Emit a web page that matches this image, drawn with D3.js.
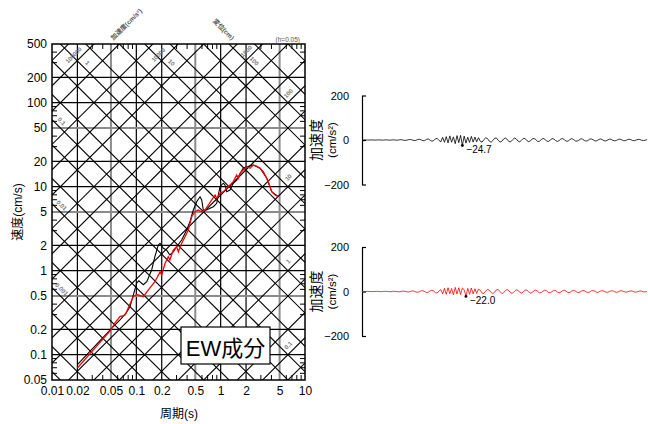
<!DOCTYPE html>
<html>
<head>
<meta charset="utf-8">
<script src="https://d3js.org/d3.v7.min.js"></script>
<style>
  body { margin: 0; background: #fff; }
  text { font-family: "Liberation Sans", Arial, "Noto Sans CJK JP", sans-serif; }
</style>
</head>
<body>
<script>
'use strict';
// ---- chart values ----
const periodTicks = [0.01, 0.02, 0.05, 0.1, 0.2, 0.5, 1, 2, 5, 10];
const velocityTicks = [0.05, 0.1, 0.2, 0.5, 1, 2, 5, 10, 20, 50, 100, 200, 500];
const gridPeriods = [0.02, 0.05, 0.1, 0.2, 0.5, 1, 2, 5];
const gridVelocities = [0.1, 0.2, 0.5, 1, 2, 5, 10, 20, 50, 100, 200];

// tripartite diagonals: acceleration (cm/s2) and displacement (cm)
const accelLines = [0.01, 0.02, 0.05, 0.1, 0.2, 0.5, 1, 2, 5, 10, 20, 50, 100, 200, 500,
  1000, 2000, 5000, 10000, 20000, 50000, 100000, 200000, 500000, 1000000];
const dispLines = [0.00001, 0.00002, 0.00005, 0.0001, 0.0002, 0.0005, 0.001, 0.002, 0.005,
  0.01, 0.02, 0.05, 0.1, 0.2, 0.5, 1, 2, 5, 10, 20, 50, 100, 200, 500, 1000];
const accelLabels = ["100000", "10000", "1000", "100", "10", "1", "0.1"];
const dispLabels = ["1", "10", "100", "0.1", "0.01", "0.001"];

// velocity response spectrum, red and black
const redPeriod = [0.02, 0.05, 0.0558, 0.064, 0.0735, 0.080, 0.092, 0.101, 0.121, 0.139, 0.166,
  0.191, 0.200, 0.219, 0.239, 0.250, 0.274, 0.301, 0.315, 0.345, 0.378, 0.413, 0.454, 0.497,
  0.543, 0.596, 0.652, 0.714, 0.784, 0.858, 0.897, 0.982, 1.075, 1.18, 1.29, 1.41, 1.55, 1.62,
  1.70, 1.85, 2.04, 2.23, 2.44, 2.67, 2.93, 3.20, 3.52, 3.67, 4.03, 4.41, 4.83];
const redVelocity = [0.0695, 0.197, 0.239, 0.284, 0.297, 0.357, 0.49, 0.52, 0.49, 0.59, 0.74,
  0.97, 0.89, 1.22, 1.47, 1.34, 1.76, 1.93, 1.68, 2.12, 2.54, 3.05, 4.40, 5.04,
  5.28, 5.04, 5.28, 6.06, 6.95, 7.97, 7.28, 8.35, 8.72, 9.58, 10.5, 11.5, 13.8, 12.6,
  14.4, 15.8, 17.3, 16.6, 18.1, 17.6, 16.6, 15.1, 12.6, 11.5, 8.72, 7.97, 7.60];
const blackPeriod = [0.02, 0.0533, 0.064, 0.075, 0.084, 0.101, 0.107, 0.121, 0.133, 0.152, 0.166,
  0.182, 0.191, 0.209, 0.229, 0.25, 0.274, 0.301, 0.345, 0.395, 0.432, 0.474, 0.52, 0.569,
  0.596, 0.622, 0.682, 0.748, 0.819, 0.897, 0.982, 1.075, 1.125, 1.18, 1.29, 1.41, 1.55,
  1.70, 1.85, 2.04, 2.44, 2.93, 3.52, 4.03, 4.83];
const blackVelocity = [0.076, 0.216, 0.259, 0.31, 0.373, 0.71, 0.76, 0.68, 0.74, 1.02, 1.47,
  2.02, 2.12, 1.85, 1.76, 1.54, 1.68, 1.93, 2.32, 3.05, 3.83, 5.28, 6.63, 7.60,
  6.95, 5.28, 5.28, 5.53, 5.78, 6.35, 10.0, 11.0, 10.5, 8.72, 9.14, 11.0, 12.0,
  14.4, 16.6, 17.3, 18.1, 16.6, 12.6, 8.72, 7.60];

// acceleration time histories (cm/s2), one sample per step
const waveBlack = [
  0, 0.2, 0.1, -0.2, -0.1, 0.3, 0.2, -0.3, -0.2, 0.4,
  0.3, -0.4, -0.3, 0.5, 0.4, -0.6, -0.4, 0.7, 0.5, -0.8,
  -0.6, 1.0, 1.4, -0.6, -1.6, -0.9, 1.5, 2.2, 0.4, -2.4,
  -1.8, 2.0, 3.2, 0.8, -3.5, -2.6, 3.0, 4.8, -1.0, -5.2,
  -3.0, 5.5, 7.0, -2.5, -8.0, 12.0, -10.5, 15.2, -13.0, 18.5,
  -9.8, 14.0, -16.5, 19.8, -12.2, 21.0, -24.7, 17.5, -14.0, 12.8,
  -11.0, 16.2, -9.5, 13.0, -8.2, 10.5, -6.0, -9.5, 2.0, 9.8,
  6.5, -5.0, -10.0, -2.5, 8.2, 8.8, -1.5, -9.2, -6.0, 4.5,
  9.0, 3.0, -7.5, -8.0, 1.0, 8.5, 5.5, -4.8, -8.2, -1.2,
  7.4, 6.8, -2.6, -7.6, -4.0, 5.2, 7.0, 1.5, -6.5, -5.8,
  2.0, 7.2, 3.5, -5.0, -6.8, -0.5, 6.2, 5.0, -2.8, -6.5,
  -2.5, 4.8, 6.0, 0.5, -5.6, -4.6, 2.2, 5.8, 2.8, -4.2,
  -5.4, -0.8, 5.0, 4.2, -2.0, -5.2, -2.6, 3.6, 4.8, 0.6,
  -4.4, -3.6, 1.8, 4.6, 2.2, -3.4, -4.2, -0.4, 3.8, 3.2,
  -1.6, -4.0, -1.8, 2.8, 3.8, 0.4, -3.4, -2.8, 1.2, 3.4,
  1.6, -2.4, -3.0, -0.2, 2.8, 2.2, -1.2, -2.6, -1.0, 1.6];
const waveRed = [
  0, -0.2, -0.1, 0.3, 0.2, -0.3, -0.4, 0.2, 0.5, 0.3,
  -0.5, -0.6, 0.3, 0.7, 0.4, -0.7, -0.8, 0.5, 0.9, 0.2,
  -1.0, -1.2, 0.6, 1.8, 1.0, -1.4, -2.2, -0.3, 2.4, 2.0,
  -1.6, -3.4, -1.0, 3.2, 3.6, -0.8, -4.6, -3.2, 2.6, 5.6,
  2.0, -5.8, -6.5, 2.5, 8.5, -11.0, 14.5, -12.8, 16.8, -10.2,
  13.5, -15.0, 18.2, -11.5, 17.0, -13.8, 15.5, 8.0, -22.0, 14.2,
  -12.5, 15.8, -10.8, 12.2, -9.0, 10.8, 5.0, -7.8, -9.0, 1.5,
  9.6, 6.2, -4.5, -9.4, -3.0, 7.6, 8.6, -0.8, -8.8, -5.6,
  3.8, 8.8, 3.6, -6.2, -7.8, 0.4, 7.8, 5.2, -3.6, -7.6,
  -2.2, 6.4, 6.6, -1.4, -7.0, -4.2, 4.6, 6.6, 0.8, -5.8,
  -5.2, 1.8, 6.4, 3.2, -4.4, -6.0, -0.6, 5.6, 4.6, -2.4,
  -5.8, -2.2, 4.4, 5.4, 0.4, -4.8, -4.0, 2.0, 5.2, 2.4,
  -3.6, -4.8, -0.6, 4.4, 3.8, -1.8, -4.6, -2.0, 3.2, 4.2,
  0.6, -3.8, -3.2, 1.6, 4.0, 1.8, -2.8, -3.6, -0.2, 3.2,
  2.8, -1.4, -3.4, -1.4, 2.4, 3.0, 0.2, -2.8, -2.2, 1.0,
  2.8, 1.2, -2.0, -2.4, -0.2, 2.2, 1.6, -1.0, -1.8, -0.6];
const waveTicks = [-200, 0, 200];

(function() {
  const TWO_PI = 2 * Math.PI;
  let svg = "";

  window.onload = function() {
    svg = d3.select('body')
      .append('svg')
      .attr('width', 648)
      .attr('height', 424);

    let map = drawSpectrumFrame();
    drawDiagonals(map);
    drawSpectrum(map);
    drawWave(waveBlack, 95.5, "#000");
    drawWave(waveRed, 247, "#f00");
  };

  // log-log frame, grid, ticks and axis labels
  function drawSpectrumFrame() {
    let x = d3.scaleLog().domain([0.01, 10]).range([52, 305]);
    let y = d3.scaleLog().domain([0.05, 500]).range([380, 44]);

    svg.append('defs').append('clipPath')
      .attr('id', 'plotClip')
      .append('rect')
        .attr('x', 52).attr('y', 44)
        .attr('width', 253).attr('height', 336);

    // grid lines, the 5-lines are grey
    let isFive = d => Math.abs(d / Math.pow(10, Math.floor(Math.log10(d) + 1e-9)) - 5) < 1e-6;
    svg.append('g').selectAll('line')
      .data(gridPeriods)
      .enter().append('line')
        .attr('x1', d => x(d)).attr('x2', d => x(d))
        .attr('y1', 44).attr('y2', 380)
        .attr('stroke', d => isFive(d) ? '#8c8c8c' : '#000')
        .attr('stroke-width', d => isFive(d) ? 2 : 1.2);
    svg.append('g').selectAll('line')
      .data(gridVelocities)
      .enter().append('line')
        .attr('y1', d => y(d)).attr('y2', d => y(d))
        .attr('x1', 52).attr('x2', 305)
        .attr('stroke', d => isFive(d) ? '#8c8c8c' : '#000')
        .attr('stroke-width', d => isFive(d) ? 2 : 1.2);

    // minor ticks (3,4,6,7,8,9) on all four sides
    let lead = d => Math.round(d / Math.pow(10, Math.floor(Math.log10(d) + 1e-9)));
    let minorX = x.ticks().filter(d => [3, 4, 6, 7, 8, 9].includes(lead(d)));
    let minorY = y.ticks().filter(d => [3, 4, 6, 7, 8, 9].includes(lead(d)));
    let tk = svg.append('g').attr('stroke', '#000').attr('stroke-width', 1);
    minorX.forEach(d => {
      tk.append('line').attr('x1', x(d)).attr('x2', x(d)).attr('y1', 44).attr('y2', 49);
      tk.append('line').attr('x1', x(d)).attr('x2', x(d)).attr('y1', 380).attr('y2', 375);
    });
    minorY.forEach(d => {
      tk.append('line').attr('y1', y(d)).attr('y2', y(d)).attr('x1', 52).attr('x2', 57);
      tk.append('line').attr('y1', y(d)).attr('y2', y(d)).attr('x1', 305).attr('x2', 300);
    });

    // tick labels through d3 axes
    let xAxis = d3.axisBottom(x).tickValues(periodTicks)
      .tickFormat(d3.format('~g')).tickSize(0).tickPadding(6);
    svg.append('g')
      .attr('transform', 'translate(0, 380)')
      .call(xAxis)
      .call(g => g.select('.domain').remove())
      .selectAll('text').attr('font-size', '12px').attr('fill', '#000');

    let yAxis = d3.axisLeft(y).tickValues(velocityTicks)
      .tickFormat(d3.format('~g')).tickSize(0).tickPadding(5);
    svg.append('g')
      .attr('transform', 'translate(52, 0)')
      .call(yAxis)
      .call(g => g.select('.domain').remove())
      .selectAll('text').attr('font-size', '12px').attr('fill', '#000');

    svg.append('text')
      .attr('x', 179).attr('y', 418)
      .attr('text-anchor', 'middle')
      .style('font-size', '12px')
      .text('周期(s)');

    svg.append('text')
      .attr('transform', 'translate(22, 212)rotate(-90)')
      .attr('text-anchor', 'middle')
      .style('font-size', '12px')
      .text('速度(cm/s)');

    return { x: x, y: y };
  }

  // constant acceleration / displacement lines of the tripartite chart
  function drawDiagonals(map) {
    let x = map.x, y = map.y;
    let g = svg.append('g')
      .attr('clip-path', 'url(#plotClip)')
      .attr('stroke', '#000')
      .attr('stroke-width', 1.1);

    g.selectAll('.acc')
      .data(accelLines)
      .enter().append('line')
        .attr('x1', x(0.01)).attr('y1', a => y(a * 0.01 / TWO_PI))
        .attr('x2', x(10)).attr('y2', a => y(a * 10 / TWO_PI));

    g.selectAll('.disp')
      .data(dispLines)
      .enter().append('line')
        .attr('x1', x(0.01)).attr('y1', d => y(TWO_PI * d / 0.01))
        .attr('x2', x(10)).attr('y2', d => y(TWO_PI * d / 10));

    // frame on top of grid
    svg.append('rect')
      .attr('x', 52).attr('y', 44)
      .attr('width', 253).attr('height', 336)
      .attr('fill', 'none')
      .attr('stroke', '#000')
      .attr('stroke-width', 1.5);

    // small grey value labels along the diagonals
    let accAt = [0.0188, 0.19, 2.1, 6.6, 6.6, 6.6, 6.6];
    accelLabels.forEach((t, i) => {
      let T = accAt[i];
      let V = (+t) * T / TWO_PI;
      svg.append('text')
        .attr('transform', 'translate(' + x(T) + ',' + (y(V) - 6) + ')rotate(-45)')
        .attr('text-anchor', 'middle')
        .attr('fill', '#777')
        .style('font-size', '6px')
        .style('font-weight', 'bold')
        .text(t);
    });
    let dispAt = [0.0253, 0.25, 2.4, 0.0125, 0.0125, 0.0125];
    dispLabels.forEach((t, i) => {
      let T = dispAt[i];
      let V = TWO_PI * (+t) / T;
      svg.append('text')
        .attr('transform', 'translate(' + x(T) + ',' + (y(V) - 5) + ')rotate(45)')
        .attr('text-anchor', 'middle')
        .attr('fill', '#777')
        .style('font-size', '6px')
        .style('font-weight', 'bold')
        .text(t);
    });

    svg.append('text')
      .attr('transform', 'translate(128, 26)rotate(-45)')
      .attr('text-anchor', 'middle')
      .attr('fill', '#555')
      .style('font-size', '6.5px')
      .style('font-weight', 'bold')
      .text('加速度(cm/s²)');
    svg.append('text')
      .attr('transform', 'translate(222, 31)rotate(45)')
      .attr('text-anchor', 'middle')
      .attr('fill', '#555')
      .style('font-size', '6.5px')
      .style('font-weight', 'bold')
      .text('変位(cm)');
    svg.append('text')
      .attr('x', 300).attr('y', 42)
      .attr('text-anchor', 'end')
      .attr('fill', '#555')
      .style('font-size', '6.5px')
      .text('(h=0.05)');
  }

  // spectrum curves and component box
  function drawSpectrum(map) {
    let line = d3.line()
      .x(d => map.x(d[0]))
      .y(d => map.y(d[1]));

    svg.append('path')
      .datum(d3.zip(blackPeriod, blackVelocity))
      .attr('d', line)
      .attr('fill', 'none')
      .attr('stroke', '#000')
      .attr('stroke-width', 1.1);

    svg.append('path')
      .datum(d3.zip(redPeriod, redVelocity))
      .attr('d', line)
      .attr('fill', 'none')
      .attr('stroke', '#f00')
      .attr('stroke-width', 1.3);

    svg.append('rect')
      .attr('x', 181).attr('y', 327)
      .attr('width', 89).attr('height', 37)
      .attr('fill', '#fff')
      .attr('stroke', '#000')
      .attr('stroke-width', 1.2);
    svg.append('text')
      .attr('x', 225.5).attr('y', 356)
      .attr('text-anchor', 'middle')
      .style('font-size', '22px')
      .text('EW成分');
  }

  // acceleration waveform with its peak
  function drawWave(wave, top, color) {
    let xW = d3.scaleLinear().domain([0, wave.length - 1]).range([362, 647]);
    let yW = d3.scaleLinear().domain([-200, 200]).range([top + 89, top]);

    let yAxis = d3.axisLeft(yW).tickValues(waveTicks)
      .tickSizeInner(-4).tickSizeOuter(0).tickPadding(13);
    svg.append('g')
      .attr('transform', 'translate(362, 0)')
      .call(yAxis)
      .call(g => g.selectAll('text').attr('font-size', '11px').attr('fill', '#000'))
      .call(g => g.selectAll('path, line').attr('stroke', '#000').attr('stroke-width', 1.2));

    svg.append('path')
      .datum(wave)
      .attr('d', d3.line().x((d, i) => xW(i)).y(d => yW(d)))
      .attr('fill', 'none')
      .attr('stroke', color)
      .attr('stroke-width', 0.8);

    let iMin = d3.minIndex(wave);
    svg.append('circle')
      .attr('cx', xW(iMin)).attr('cy', yW(wave[iMin]))
      .attr('r', 1.4)
      .attr('fill', '#000');
    svg.append('text')
      .attr('x', xW(iMin) + 4).attr('y', yW(wave[iMin]) + 8)
      .style('font-size', '10px')
      .text(d3.format('.1f')(wave[iMin]));

    let mid = yW(0);
    svg.append('text')
      .attr('transform', 'translate(321,' + mid + ')rotate(-90)')
      .attr('text-anchor', 'middle')
      .style('font-size', '14px')
      .text('加速度');
    svg.append('text')
      .attr('transform', 'translate(336,' + mid + ')rotate(-90)')
      .attr('text-anchor', 'middle')
      .style('font-size', '11.5px')
      .text('(cm/s²)');
  }
})();
</script>
</body>
</html>
